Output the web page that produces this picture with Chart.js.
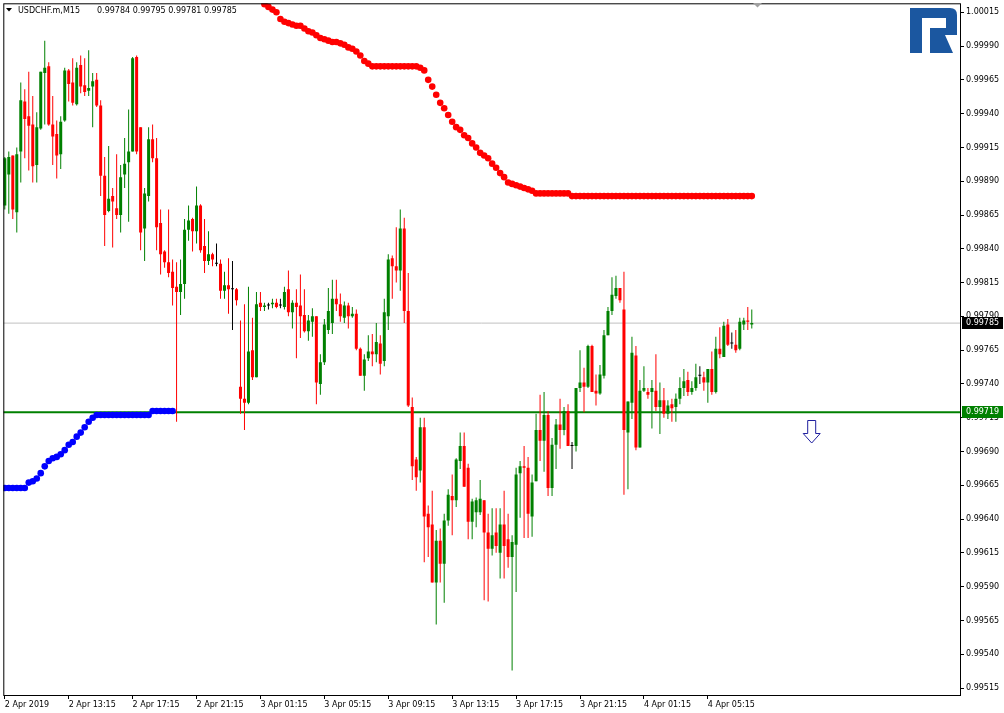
<!DOCTYPE html>
<html>
<head>
<meta charset="utf-8">
<title>USDCHF.m M15</title>
<script src="https://cdn.jsdelivr.net/npm/chart.js@4.4.1/dist/chart.umd.min.js"></script>
<style>
  html, body { margin: 0; padding: 0; background: #fff; }
  #wrap { width: 1004px; height: 713px; }
</style>
</head>
<body>
<div id="wrap"><canvas id="chart" width="1004" height="713"></canvas></div>
<script>
// --- Data ---
const symbolName = 'USDCHF.m,M15';

const opens = [
  0.99872,0.99895,0.99909,0.99867,0.99912,0.99949,0.99938,0.99932,0.99902,0.99929,
  0.99970,0.99975,0.99932,0.99925,0.99910,0.99935,0.99972,0.99963,0.99947,0.99976,
  0.99961,0.99957,0.99960,0.99965,0.99946,0.99894,0.99868,0.99879,0.99870,0.99865,
  0.99895,0.99904,0.99912,0.99982,0.99930,0.99855,0.99879,0.99921,0.99907,0.99859,
  0.99838,0.99830,0.99823,0.99812,0.99808,0.99814,0.99854,0.99862,0.99853,0.99872,
  0.99842,0.99831,0.99836,0.99829,0.99829,0.99809,0.99813,0.99810,0.99810,0.99738,
  0.99729,0.99726,0.99765,0.99745,0.99800,0.99797,0.99798,0.99799,0.99800,0.99798,
  0.99797,0.99810,0.99793,0.99800,0.99798,0.99791,0.99779,0.99786,0.99790,0.99740,
  0.99756,0.99780,0.99785,0.99803,0.99799,0.99789,0.99798,0.99790,0.99792,0.99766,
  0.99746,0.99759,0.99764,0.99762,0.99770,0.99757,0.99790,0.99833,0.99827,0.99824,
  0.99855,0.99794,0.99723,0.99684,0.99676,0.99708,0.99644,0.99636,0.99593,0.99624,
  0.99607,0.99639,0.99657,0.99654,0.99683,0.99694,0.99678,0.99638,0.99645,0.99645,
  0.99654,0.99630,0.99618,0.99630,0.99615,0.99636,0.99625,0.99612,0.99621,0.99674,
  0.99679,0.99678,0.99642,0.99668,0.99706,0.99698,0.99717,0.99663,0.99695,0.99710,
  0.99706,0.99720,0.99694,0.99694,0.99737,0.99741,0.99738,0.99768,0.99735,0.99733,
  0.99746,0.99776,0.99794,0.99805,0.99811,0.99795,0.99704,0.99726,0.99761,0.99693,
  0.99735,0.99734,0.99734,0.99735,0.99723,0.99728,0.99718,0.99725,0.99723,0.99729,
  0.99737,0.99743,0.99734,0.99737,0.99746,0.99745,0.99741,0.99751,0.99734,0.99766,
  0.99760,0.99784,0.99770,0.99769,0.99766,0.99784,0.99787,0.99784
];
const highs = [
  0.99908,0.99912,0.99909,0.99915,0.99963,0.99958,0.99971,0.99953,0.99941,0.99971,
  0.99994,0.99978,0.99953,0.99935,0.99938,0.99974,0.99973,0.99981,0.99978,0.99983,
  0.99981,0.99987,0.99970,0.99970,0.99950,0.99908,0.99916,0.99885,0.99910,0.99902,
  0.99922,0.99943,0.99982,0.99983,0.99930,0.99885,0.99930,0.99932,0.99922,0.99869,
  0.99839,0.99869,0.99832,0.99830,0.99832,0.99862,0.99872,0.99863,0.99886,0.99873,
  0.99862,0.99853,0.99837,0.99844,0.99832,0.99823,0.99833,0.99831,0.99811,0.99787,
  0.99799,0.99812,0.99789,0.99808,0.99808,0.99800,0.99800,0.99803,0.99803,0.99803,
  0.99812,0.99824,0.99802,0.99810,0.99821,0.99810,0.99791,0.99796,0.99790,0.99762,
  0.99788,0.99811,0.99817,0.99817,0.99807,0.99801,0.99800,0.99797,0.99795,0.99767,
  0.99762,0.99776,0.99777,0.99785,0.99776,0.99803,0.99836,0.99835,0.99856,0.99869,
  0.99863,0.99822,0.99730,0.99686,0.99715,0.99715,0.99650,0.99661,0.99632,0.99633,
  0.99644,0.99662,0.99673,0.99685,0.99704,0.99704,0.99681,0.99655,0.99656,0.99669,
  0.99654,0.99644,0.99648,0.99648,0.99648,0.99661,0.99644,0.99628,0.99678,0.99683,
  0.99694,0.99686,0.99673,0.99718,0.99732,0.99734,0.99720,0.99700,0.99714,0.99729,
  0.99723,0.99725,0.99697,0.99737,0.99765,0.99752,0.99769,0.99769,0.99747,0.99754,
  0.99780,0.99797,0.99819,0.99820,0.99811,0.99823,0.99727,0.99775,0.99768,0.99743,
  0.99753,0.99737,0.99743,0.99762,0.99741,0.99737,0.99728,0.99729,0.99733,0.99745,
  0.99751,0.99749,0.99742,0.99755,0.99753,0.99749,0.99751,0.99764,0.99775,0.99782,
  0.99786,0.99788,0.99778,0.99780,0.99789,0.99789,0.99797,0.99795
];
const lows = [
  0.99869,0.99866,0.99862,0.99852,0.99889,0.99907,0.99898,0.99889,0.99889,0.99928,
  0.99932,0.99931,0.99902,0.99892,0.99899,0.99934,0.99949,0.99946,0.99946,0.99955,
  0.99953,0.99953,0.99930,0.99945,0.99879,0.99842,0.99867,0.99841,0.99862,0.99852,
  0.99885,0.99860,0.99912,0.99910,0.99839,0.99831,0.99875,0.99904,0.99839,0.99821,
  0.99826,0.99819,0.99798,0.99712,0.99791,0.99803,0.99846,0.99838,0.99844,0.99837,
  0.99822,0.99828,0.99827,0.99827,0.99803,0.99803,0.99792,0.99780,0.99798,0.99718,
  0.99706,0.99725,0.99743,0.99745,0.99794,0.99794,0.99795,0.99796,0.99796,0.99796,
  0.99795,0.99790,0.99781,0.99759,0.99774,0.99778,0.99772,0.99775,0.99725,0.99732,
  0.99754,0.99777,0.99777,0.99794,0.99786,0.99785,0.99781,0.99789,0.99765,0.99746,
  0.99735,0.99757,0.99753,0.99756,0.99747,0.99753,0.99780,0.99803,0.99815,0.99809,
  0.99785,0.99723,0.99669,0.99661,0.99667,0.99608,0.99612,0.99593,0.99562,0.99593,
  0.99578,0.99635,0.99628,0.99649,0.99677,0.99664,0.99625,0.99625,0.99634,0.99643,
  0.99580,0.99579,0.99613,0.99615,0.99596,0.99596,0.99604,0.99528,0.99586,0.99641,
  0.99626,0.99626,0.99627,0.99668,0.99683,0.99675,0.99657,0.99657,0.99677,0.99692,
  0.99702,0.99694,0.99677,0.99690,0.99734,0.99719,0.99737,0.99734,0.99724,0.99732,
  0.99744,0.99776,0.99791,0.99803,0.99800,0.99658,0.99662,0.99714,0.99691,0.99693,
  0.99734,0.99729,0.99707,0.99720,0.99703,0.99715,0.99714,0.99712,0.99712,0.99725,
  0.99731,0.99731,0.99732,0.99735,0.99740,0.99735,0.99726,0.99732,0.99733,0.99759,
  0.99760,0.99768,0.99766,0.99763,0.99765,0.99780,0.99780,0.99781
];
const closes = [
  0.99907,0.99908,0.99869,0.99910,0.99950,0.99936,0.99931,0.99901,0.99930,0.99971,
  0.99974,0.99932,0.99923,0.99909,0.99934,0.99972,0.99962,0.99948,0.99974,0.99960,
  0.99956,0.99959,0.99964,0.99946,0.99894,0.99865,0.99877,0.99875,0.99865,0.99893,
  0.99903,0.99912,0.99981,0.99912,0.99852,0.99881,0.99921,0.99907,0.99856,0.99836,
  0.99830,0.99822,0.99811,0.99808,0.99814,0.99854,0.99861,0.99853,0.99872,0.99839,
  0.99831,0.99836,0.99832,0.99829,0.99809,0.99813,0.99810,0.99810,0.99802,0.99729,
  0.99726,0.99764,0.99745,0.99799,0.99797,0.99798,0.99798,0.99800,0.99797,0.99798,
  0.99808,0.99793,0.99800,0.99797,0.99790,0.99779,0.99787,0.99790,0.99741,0.99756,
  0.99784,0.99794,0.99803,0.99799,0.99790,0.99798,0.99790,0.99792,0.99766,0.99746,
  0.99758,0.99764,0.99762,0.99771,0.99755,0.99793,0.99832,0.99827,0.99824,0.99855,
  0.99794,0.99724,0.99679,0.99671,0.99708,0.99642,0.99634,0.99593,0.99624,0.99607,
  0.99639,0.99658,0.99654,0.99684,0.99694,0.99664,0.99638,0.99653,0.99654,0.99655,
  0.99630,0.99618,0.99628,0.99620,0.99636,0.99620,0.99612,0.99623,0.99673,0.99679,
  0.99678,0.99644,0.99667,0.99706,0.99698,0.99717,0.99663,0.99695,0.99710,0.99706,
  0.99720,0.99694,0.99694,0.99737,0.99741,0.99738,0.99768,0.99734,0.99733,0.99747,
  0.99776,0.99794,0.99806,0.99811,0.99802,0.99706,0.99727,0.99763,0.99693,0.99735,
  0.99737,0.99732,0.99737,0.99723,0.99728,0.99718,0.99724,0.99722,0.99729,0.99737,
  0.99742,0.99734,0.99737,0.99745,0.99746,0.99741,0.99751,0.99734,0.99766,0.99762,
  0.99783,0.99769,0.99770,0.99765,0.99786,0.99787,0.99786,0.99785
];

// red dotted indicator above price, first dot sits on bar 65
const upperDotsStart = 65;
const upperDots = [
  1.00021,1.00019,1.00017,1.00015,1.00010,1.00008,1.00007,1.00006,1.00005,1.00005,
  1.00003,1.00001,1.00000,0.99998,0.99996,0.99995,0.99994,0.99993,0.99993,0.99992,
  0.99991,0.99989,0.99988,0.99986,0.99983,0.99979,0.99977,0.99975,0.99975,0.99975,
  0.99975,0.99975,0.99975,0.99975,0.99975,0.99975,0.99975,0.99975,0.99975,0.99974,
  0.99972,0.99965,0.99960,0.99954,0.99948,0.99944,0.99939,0.99934,0.99930,0.99928,
  0.99924,0.99922,0.99918,0.99915,0.99911,0.99909,0.99907,0.99903,0.99900,0.99896,
  0.99893,0.99889,0.99888,0.99887,0.99886,0.99885,0.99884,0.99883,0.99881,0.99881,
  0.99881,0.99881,0.99881,0.99881,0.99881,0.99881,0.99881,0.99879,0.99879,0.99879,
  0.99879,0.99879,0.99879,0.99879,0.99879,0.99879,0.99879,0.99879,0.99879,0.99879,
  0.99879,0.99879,0.99879,0.99879,0.99879,0.99879,0.99879,0.99879,0.99879,0.99879,
  0.99879,0.99879,0.99879,0.99879,0.99879,0.99879,0.99879,0.99879,0.99879,0.99879,
  0.99879,0.99879,0.99879,0.99879,0.99879,0.99879,0.99879,0.99879,0.99879,0.99879,
  0.99879,0.99879,0.99879
];
// blue dotted indicator below price, bars 0..42
const lowerDots = [
  0.99663,0.99663,0.99663,0.99663,0.99663,0.99663,0.99667,0.99668,0.99670,0.99674,
  0.99679,0.99683,0.99685,0.99686,0.99688,0.99691,0.99695,0.99697,0.99701,0.99704,
  0.99708,0.99712,0.99715,0.99717,0.99717,0.99717,0.99717,0.99717,0.99717,0.99717,
  0.99717,0.99717,0.99717,0.99717,0.99717,0.99717,0.99717,0.99720,0.99720,0.99720,
  0.99720,0.99720,0.99720
];

const priceTicks = [
  0.99515,0.99540,0.99565,0.99590,0.99615,0.99640,0.99665,0.99690,0.99715,0.99740,
  0.99765,0.99790,0.99815,0.99840,0.99865,0.99890,0.99915,0.99940,0.99965,0.99990,1.00015
];
const timeTickBars = [0,16,32,48,64,80,96,112,128,144,160,176];
const timeTickLabels = [
  '2 Apr 2019','2 Apr 13:15','2 Apr 17:15','2 Apr 21:15','3 Apr 01:15','3 Apr 05:15',
  '3 Apr 09:15','3 Apr 13:15','3 Apr 17:15','3 Apr 21:15','4 Apr 01:15','4 Apr 05:15'
];

const bidLevel = 0.99785;
const greenLevel = 0.99719;
const arrowBar = 202;
const arrowPrice = 0.99713;

// --- view range (chart shift to the right, fixed price scale) ---
const xMin = -0.375, xMax = 239.125;
const yMin = 0.9950983, yMax = 1.0002165;

const UP = '#008000', DOWN = '#ff0000', DOJI = '#000000';
const FONT = '"DejaVu Sans", sans-serif';

const bars = opens.map((o, i) => i);
function candleColor(ctx) {
  const i = ctx.dataIndex;
  if (i === undefined) return DOJI;
  if (closes[i] > opens[i]) return UP;
  if (closes[i] < opens[i]) return DOWN;
  return DOJI;
}

// axes must not push the plot area in for their end labels
function noPad(s) {
  s.paddingTop = 0; s.paddingBottom = 0; s.paddingLeft = 0; s.paddingRight = 0;
}

const overlay = {
  id: 'mtOverlay',
  afterDraw(chart) {
    const ctx = chart.ctx;
    const a = chart.chartArea;
    const xs = chart.scales.x, ys = chart.scales.y;
    ctx.save();

    // frame
    ctx.strokeStyle = '#000';
    ctx.lineWidth = 1;
    ctx.strokeRect(a.left + 0.5, a.top + 0.5, a.right - a.left, a.bottom - a.top);

    // title
    ctx.fillStyle = '#000';
    ctx.beginPath();
    ctx.moveTo(6, 8); ctx.lineTo(12, 8); ctx.lineTo(9, 11.5); ctx.closePath();
    ctx.fill();
    ctx.font = '8px ' + FONT;
    ctx.textBaseline = 'middle';
    ctx.textAlign = 'left';
    const n = closes.length - 1;
    ctx.fillText(symbolName, 18, 11);
    ctx.fillText([opens[n], highs[n], lows[n], closes[n]].map(v => v.toFixed(5)).join(' '), 97, 11);

    // shift marker
    ctx.fillStyle = '#a0a0a0';
    ctx.beginPath();
    ctx.moveTo(753, 3); ctx.lineTo(762, 3); ctx.lineTo(757.5, 7.5); ctx.closePath();
    ctx.fill();

    // logo
    ctx.fillStyle = '#1b57a0';
    ctx.beginPath();
    ctx.moveTo(910, 8); ctx.lineTo(950, 8);
    ctx.quadraticCurveTo(957, 8, 957, 15);
    ctx.lineTo(957, 35); ctx.lineTo(945, 35); ctx.lineTo(953, 53);
    ctx.lineTo(930, 53); ctx.lineTo(930, 28); ctx.lineTo(946, 28);
    ctx.lineTo(946, 18); ctx.lineTo(922, 18); ctx.lineTo(922, 53);
    ctx.lineTo(910, 53); ctx.closePath();
    ctx.fill();

    // sell arrow
    const ax = xs.getPixelForValue(arrowBar);
    const ay = Math.round(ys.getPixelForValue(arrowPrice)) + 0.5;
    ctx.beginPath();
    ctx.moveTo(ax - 4, ay); ctx.lineTo(ax + 4, ay); ctx.lineTo(ax + 4, ay + 13);
    ctx.lineTo(ax + 8.5, ay + 13); ctx.lineTo(ax, ay + 22.5); ctx.lineTo(ax - 8.5, ay + 13);
    ctx.lineTo(ax - 4, ay + 13); ctx.closePath();
    ctx.fillStyle = '#fff';
    ctx.fill();
    ctx.strokeStyle = '#1f1f9e';
    ctx.stroke();

    // price tags on the axis
    const tag = (price, bg) => {
      const y = Math.round(ys.getPixelForValue(price));
      ctx.fillStyle = bg;
      ctx.fillRect(a.right + 2, y - 6, 41, 12);
      ctx.fillStyle = '#fff';
      ctx.font = '8px ' + FONT;
      ctx.textBaseline = 'middle';
      ctx.fillText(price.toFixed(5), a.right + 6, y);
    };
    tag(bidLevel, '#000');
    tag(greenLevel, '#008000');

    ctx.restore();
  }
};

new Chart(document.getElementById('chart'), {
  type: 'bar',
  data: {
    datasets: [
      {
        type: 'line', order: 1, clip: 0,
        data: upperDots.map((v, k) => ({ x: upperDotsStart + k, y: v })),
        showLine: false, pointRadius: 3.3, pointHoverRadius: 0,
        pointBackgroundColor: '#ff0000', pointBorderWidth: 0
      },
      {
        type: 'line', order: 2, clip: 0,
        data: lowerDots.map((v, k) => ({ x: k, y: v })),
        showLine: false, pointRadius: 3.3, pointHoverRadius: 0,
        pointBackgroundColor: '#0000ff', pointBorderWidth: 0
      },
      {
        order: 3, grouped: false,
        data: bars.map(i => ({ x: i, y: [opens[i], closes[i]] })),
        barThickness: 3, minBarLength: 1, inflateAmount: 0,
        borderWidth: 0, backgroundColor: candleColor
      },
      {
        order: 4, grouped: false,
        data: bars.map(i => ({ x: i, y: [lows[i], highs[i]] })),
        barThickness: 1, inflateAmount: 0,
        borderWidth: 0, backgroundColor: candleColor
      },
      {
        type: 'line', order: 5,
        data: [{ x: xMin, y: greenLevel }, { x: xMax, y: greenLevel }],
        borderColor: '#008000', borderWidth: 2, pointRadius: 0
      },
      {
        type: 'line', order: 6,
        data: [{ x: xMin, y: bidLevel }, { x: xMax, y: bidLevel }],
        borderColor: '#c0c0c0', borderWidth: 1, pointRadius: 0
      }
    ]
  },
  options: {
    responsive: false,
    animation: false,
    events: [],
    layout: { padding: { left: 2, top: 2, right: 0, bottom: 0 } },
    plugins: { legend: { display: false }, tooltip: { enabled: false } },
    scales: {
      x: {
        type: 'linear', min: xMin, max: xMax, offset: false,
        grid: { drawOnChartArea: false, drawTicks: true, tickLength: 4, color: '#000', offset: false },
        border: { display: false },
        ticks: {
          autoSkip: false, maxRotation: 0, align: 'start', padding: 1,
          color: '#000', font: { family: FONT, size: 8 },
          callback: v => timeTickLabels[timeTickBars.indexOf(v)]
        },
        afterBuildTicks: s => { s.ticks = timeTickBars.map(v => ({ value: v })); },
        afterFit: s => { s.height = 18; noPad(s); }
      },
      y: {
        type: 'linear', position: 'right', min: yMin, max: yMax,
        grid: { drawOnChartArea: false, drawTicks: true, tickLength: 4, color: '#000' },
        border: { display: false },
        ticks: {
          autoSkip: false, padding: 2,
          color: '#000', font: { family: FONT, size: 8 },
          callback: v => v.toFixed(5)
        },
        afterBuildTicks: s => { s.ticks = priceTicks.map(v => ({ value: v })); },
        afterFit: s => { s.width = 44; noPad(s); }
      }
    }
  },
  plugins: [overlay]
});
</script>
</body>
</html>
